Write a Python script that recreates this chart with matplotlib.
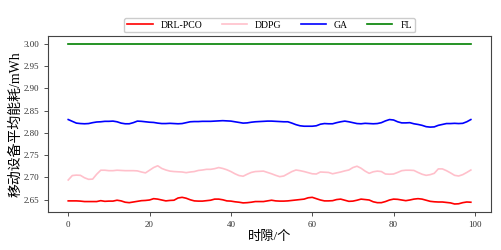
import matplotlib
matplotlib.use('Agg')
import matplotlib.pyplot as plt
import numpy as np

plt.rcParams['font.family'] = ['Liberation Serif', 'Noto Sans CJK SC', 'DejaVu Sans']
plt.rcParams['axes.unicode_minus'] = False

slots = np.arange(100)

drl_pco = [2.647, 2.647, 2.647, 2.6465, 2.6455, 2.6455, 2.6455, 2.6455, 2.6475, 2.646,
           2.6465, 2.6465, 2.6485, 2.647, 2.644, 2.643, 2.6445, 2.646, 2.6475, 2.648,
           2.649, 2.652, 2.651, 2.649, 2.647, 2.648, 2.6485, 2.6535, 2.655, 2.653,
           2.6495, 2.647, 2.6465, 2.6465, 2.6475, 2.6485, 2.651, 2.651, 2.6495, 2.647,
           2.6465, 2.645, 2.644, 2.6425, 2.643, 2.644, 2.6455, 2.6455, 2.6455, 2.647,
           2.6485, 2.647, 2.6465, 2.6465, 2.647, 2.648, 2.649, 2.650, 2.651, 2.654,
           2.655, 2.652, 2.649, 2.647, 2.647, 2.6475, 2.650, 2.651, 2.6485, 2.646,
           2.6465, 2.6485, 2.651, 2.650, 2.649, 2.645, 2.643, 2.643, 2.6455, 2.649,
           2.651, 2.6505, 2.649, 2.6475, 2.649, 2.651, 2.652, 2.651, 2.6485, 2.646,
           2.645, 2.6445, 2.6445, 2.6435, 2.6425, 2.640, 2.6405, 2.643, 2.6445, 2.644]

ddpg = [2.694, 2.704, 2.705, 2.7045, 2.699, 2.6955, 2.696, 2.707, 2.716, 2.716,
        2.715, 2.715, 2.716, 2.7155, 2.715, 2.715, 2.715, 2.7145, 2.712, 2.710,
        2.716, 2.722, 2.726, 2.720, 2.7165, 2.714, 2.713, 2.7125, 2.712, 2.7105,
        2.712, 2.713, 2.7155, 2.7165, 2.718, 2.718, 2.7195, 2.722, 2.720, 2.717,
        2.713, 2.708, 2.704, 2.7025, 2.707, 2.711, 2.713, 2.7135, 2.714, 2.711,
        2.708, 2.7045, 2.7015, 2.703, 2.708, 2.713, 2.7165, 2.715, 2.713, 2.7105,
        2.708, 2.7075, 2.712, 2.7115, 2.711, 2.708, 2.710, 2.712, 2.7145, 2.7165,
        2.722, 2.725, 2.7205, 2.714, 2.709, 2.7125, 2.714, 2.713, 2.7075, 2.707,
        2.7075, 2.711, 2.715, 2.716, 2.716, 2.7155, 2.711, 2.707, 2.7045, 2.706,
        2.709, 2.719, 2.719, 2.715, 2.710, 2.7045, 2.703, 2.706, 2.711, 2.7165]

ga = [2.830, 2.826, 2.822, 2.821, 2.8205, 2.821, 2.823, 2.8245, 2.825, 2.826,
      2.826, 2.8265, 2.825, 2.822, 2.8205, 2.8205, 2.823, 2.8265, 2.826, 2.825,
      2.824, 2.8235, 2.822, 2.821, 2.821, 2.8215, 2.821, 2.8205, 2.821, 2.823,
      2.825, 2.8255, 2.8255, 2.826, 2.826, 2.826, 2.8265, 2.827, 2.8275, 2.827,
      2.8265, 2.825, 2.8235, 2.822, 2.8225, 2.824, 2.825, 2.8255, 2.826, 2.8265,
      2.8265, 2.826, 2.8255, 2.825, 2.825, 2.822, 2.8185, 2.816, 2.815, 2.815,
      2.815, 2.816, 2.8195, 2.821, 2.8205, 2.8205, 2.823, 2.825, 2.8265, 2.825,
      2.823, 2.821, 2.8205, 2.8215, 2.821, 2.8205, 2.821, 2.823, 2.827, 2.830,
      2.829, 2.825, 2.8225, 2.8225, 2.823, 2.8205, 2.819, 2.817, 2.814, 2.813,
      2.8135, 2.817, 2.819, 2.821, 2.821, 2.8215, 2.821, 2.8215, 2.825, 2.830]

fl = [3.00] * 100

fig = plt.figure(figsize=(5.01, 2.5), dpi=100)
ax = fig.add_axes([0.096, 0.152, 0.884, 0.704])

ax.plot(slots, drl_pco, color='red', linewidth=1.2, label='DRL-PCO')
ax.plot(slots, ddpg, color='pink', linewidth=1.2, label='DDPG')
ax.plot(slots, ga, color='blue', linewidth=1.2, label='GA')
ax.plot(slots, fl, color='green', linewidth=1.2, label='FL')

ax.set_xticks([0, 20, 40, 60, 80, 100])
ax.set_yticks([2.65, 2.70, 2.75, 2.80, 2.85, 2.90, 2.95, 3.00])
ax.set_yticklabels(['%.2f' % v for v in ax.get_yticks()])
ax.tick_params(labelsize=6.5, width=0.6, length=3, colors='#333333')
for s in ax.spines.values():
    s.set_linewidth(0.8)
    s.set_color('#444444')

ax.set_xlabel('时隙/个', fontsize=9.5, labelpad=1)
ax.set_ylabel('移动设备平均能耗/mWh', fontsize=10, labelpad=1)

ax.legend(loc='lower center', bbox_to_anchor=(0.5, 1.02), ncol=4, fontsize=7,
          handlelength=2.6, columnspacing=2.0, borderpad=0.3, frameon=True,
          framealpha=1, borderaxespad=0)

fig.savefig('out.png', dpi=100)
